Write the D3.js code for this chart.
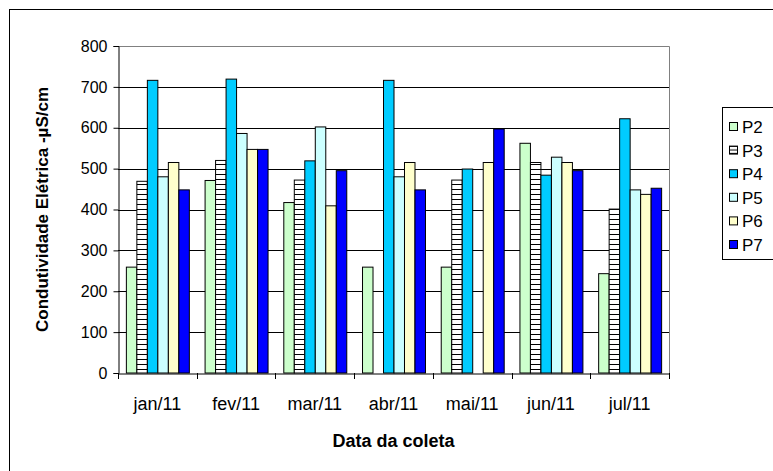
<!DOCTYPE html>
<html><head><meta charset="utf-8">
<script src="https://cdn.jsdelivr.net/npm/d3@7"></script>
<style>body{margin:0;background:#fff}svg{display:block;font-family:"Liberation Sans",Arial,sans-serif}</style>
</head><body><svg id="c" width="773" height="471"></svg>
<script>
const categories = ["jan/11","fev/11","mar/11","abr/11","mai/11","jun/11","jul/11"];
const seriesNames = ["P2","P3","P4","P5","P6","P7"];
const P2 = [259, 471, 417, 259, 259, 562, 243];
const P3 = [469, 520, 472, null, 472, 515, 401];
const P4 = [716, 719, 519, 716, 499, 484, 622];
const P5 = [480, 586, 602, 480, null, 528, 448];
const P6 = [515, 547, 409, 515, 515, 515, 437];
const P7 = [448, 547, 495, 448, 597, 495, 452];
const yTicks = [0,100,200,300,400,500,600,700,800];
const colors = ["#CCFFCC","url(#stripes)","#00CCFF","#CCFFFF","#FFFFCC","#0000FF"];
const seriesValues = [P2,P3,P4,P5,P6,P7];

const svg = d3.select("#c");
const defs = svg.append("defs");
const pat = defs.append("pattern").attr("id","stripes").attr("patternUnits","userSpaceOnUse")
  .attr("width",8).attr("height",5);
pat.append("rect").attr("width",8).attr("height",5).attr("fill","#fff");
pat.append("rect").attr("y",4).attr("width",8).attr("height",1).attr("fill","#000");
const pat2 = defs.append("pattern").attr("id","stripesL").attr("patternUnits","userSpaceOnUse")
  .attr("width",8).attr("height",3.5);
pat2.append("rect").attr("width",8).attr("height",3.5).attr("fill","#fff");
pat2.append("rect").attr("y",2.5).attr("width",8).attr("height",1).attr("fill","#000");

// chart border
svg.append("rect").attr("x",9.5).attr("y",9.5).attr("width",800).attr("height",500)
  .attr("fill","none").attr("stroke","#000").attr("stroke-width",1);

const L = 118, R = 669, T = 46, B = 373;
const x0 = d3.scaleBand().domain(categories).range([L,R]).paddingInner(0).paddingOuter(0);
const x1 = d3.scaleBand().domain(seriesNames).range([0,x0.bandwidth()]).paddingOuter(0.75).paddingInner(0);
const y = d3.scaleLinear().domain([0,800]).range([B,T]);

// gridlines
svg.append("g").selectAll("line").data(yTicks.filter(d=>d>0&&d<800)).join("line")
  .attr("x1",L).attr("x2",R).attr("y1",d=>Math.round(y(d))+0.5).attr("y2",d=>Math.round(y(d))+0.5)
  .attr("stroke","#000").attr("stroke-width",1);
// plot top/right border gray
svg.append("path").attr("d",`M${L},${T+0.5}H${R+0.5}V${B}`).attr("fill","none").attr("stroke","#808080").attr("stroke-width",1);

// bars
const rows = [];
categories.forEach((c,i)=>seriesNames.forEach((s,j)=>{ const v=seriesValues[j][i]; if(v!=null) rows.push({c,s,v,j}); }));
svg.append("g").selectAll("rect").data(rows).join("rect")
  .attr("x",d=>x0(d.c)+x1(d.s)+0.5).attr("width",x1.bandwidth())
  .attr("y",d=>y(d.v)).attr("height",d=>B-y(d.v))
  .attr("fill",d=>colors[d.j]).attr("stroke","#000").attr("stroke-width",1);

// y axis
const ya = svg.append("g").attr("transform",`translate(${L+0.5},0)`)
  .call(d3.axisLeft(y).tickValues(yTicks).tickSize(5).tickPadding(6));
ya.select(".domain").attr("stroke","#000");
ya.selectAll("text").attr("font-size",16).attr("font-family","Liberation Sans, Arial").attr("fill","#000");
// x axis
const xa = svg.append("g").attr("transform",`translate(0,${B+0.5})`)
  .call(d3.axisBottom(x0).tickSize(0).tickPadding(24));
xa.select(".domain").attr("stroke","#000");
xa.selectAll("text").attr("font-size",18).attr("font-family","Liberation Sans, Arial").attr("fill","#000");
const bounds = categories.map(c=>x0(c)).concat([R]);
svg.append("g").selectAll("line").data(bounds).join("line")
  .attr("x1",d=>Math.round(d)+0.5).attr("x2",d=>Math.round(d)+0.5).attr("y1",B).attr("y2",B+6)
  .attr("stroke","#000");

// titles
svg.append("text").attr("x",(L+R)/2).attr("y",447).attr("text-anchor","middle")
  .attr("font-size",18).attr("font-weight","bold").text("Data da coleta");
svg.append("text").attr("transform",`translate(48,${(T+B)/2}) rotate(-90)`).attr("text-anchor","middle")
  .attr("font-size",17).attr("font-weight","bold").text("Condutividade Elétrica -µS/cm");

// legend
const lg = svg.append("g");
lg.append("rect").attr("x",722.5).attr("y",107.5).attr("width",80).attr("height",152)
  .attr("fill","#fff").attr("stroke","#000");
seriesNames.forEach((s,j)=>{
  const cy = 127 + j*23.6;
  lg.append("rect").attr("x",729.5).attr("y",cy-4.5).attr("width",8).attr("height",8)
    .attr("fill", j===1 ? "url(#stripesL)" : colors[j]).attr("stroke","#000");
  lg.append("text").attr("x",742).attr("y",cy+6).attr("font-size",17).text(s);
});
</script></body></html>
